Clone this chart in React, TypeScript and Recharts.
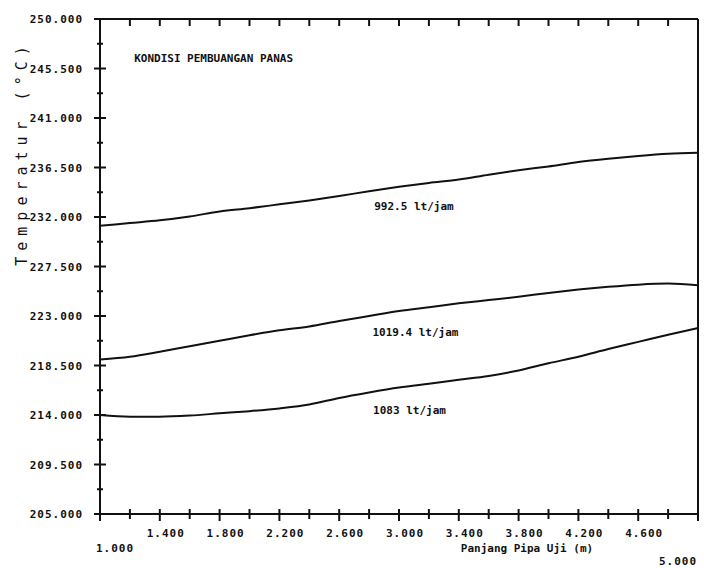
import React from "react";
import { LineChart, Line, XAxis, YAxis, ReferenceDot } from "recharts";

// panjang pipa uji (m)
const panjang = [1.0, 1.2, 1.4, 1.6, 1.8, 2.0, 2.2, 2.4, 2.6, 2.8, 3.0, 3.2, 3.4, 3.6, 3.8, 4.0, 4.2, 4.4, 4.6, 4.8, 5.0];
// temperatur (°C) tiap debit
const suhu992 = [231.2, 231.45, 231.7, 232.05, 232.5, 232.8, 233.15, 233.5, 233.9, 234.35, 234.75, 235.1, 235.4, 235.85, 236.25, 236.6, 237.0, 237.3, 237.55, 237.75, 237.85];
const suhu1019 = [219.05, 219.3, 219.75, 220.25, 220.75, 221.25, 221.7, 222.05, 222.55, 223.0, 223.45, 223.8, 224.15, 224.45, 224.75, 225.1, 225.4, 225.65, 225.85, 225.95, 225.8];
const suhu1083 = [214.0, 213.85, 213.85, 213.95, 214.15, 214.35, 214.6, 214.95, 215.55, 216.05, 216.5, 216.85, 217.2, 217.55, 218.05, 218.7, 219.3, 220.0, 220.65, 221.3, 221.9];

const xTicks = [1.0, 1.2, 1.4, 1.6, 1.8, 2.0, 2.2, 2.4, 2.6, 2.8, 3.0, 3.2, 3.4, 3.6, 3.8, 4.0, 4.2, 4.4, 4.6, 4.8, 5.0];
const yTicks = [205, 207.25, 209.5, 211.75, 214, 216.25, 218.5, 220.75, 223, 225.25, 227.5, 229.75, 232, 234.25, 236.5, 238.75, 241, 243.25, 245.5, 247.75, 250];

const labelDebit = ["992.5 lt/jam", "1019.4 lt/jam", "1083 lt/jam"];
const judul = "KONDISI PEMBUANGAN PANAS";

const data = panjang.map((x, i) => ({ x, a: suhu992[i], b: suhu1019[i], c: suhu1083[i] }));

const mono = "'DejaVu Sans Mono', 'Liberation Mono', monospace";
const ink = "#111";

const LeftTick = (props: any) => {
  const { x, y, payload } = props;
  const k = Math.round((payload.value - 205) / 2.25);
  const major = k % 2 === 0;
  const s = major ? 6 : 3;
  return (
    <g>
      <line x1={x - s} x2={x + s} y1={y} y2={y} stroke={ink} strokeWidth={2} />
      {major && (
        <text x={x - 17} y={y} dy={4} textAnchor="end" fontFamily={mono} fontSize={11} fontWeight="bold" letterSpacing={1} fill={ink}>
          {Number(payload.value).toFixed(3)}
        </text>
      )}
    </g>
  );
};

const BottomTick = (props: any) => {
  const { x, y, payload } = props;
  const k = Math.round((payload.value - 1) / 0.2);
  const major = k % 2 === 0;
  let lx = x + 6;
  let ly = y + 23;
  if (k === 0) {
    lx = x + 15;
    ly = y + 38;
  }
  if (k === 20) {
    lx = x - 20;
    ly = y + 51;
  }
  return (
    <g>
      <line x1={x} x2={x} y1={y - 5} y2={y + (major ? 7 : 5)} stroke={ink} strokeWidth={2} />
      {major && (
        <text x={lx} y={ly} textAnchor="middle" fontFamily={mono} fontSize={11} fontWeight="bold" letterSpacing={1} fill={ink}>
          {Number(payload.value).toFixed(3)}
        </text>
      )}
    </g>
  );
};

const TopTick = (props: any) => {
  const { x, y } = props;
  return <line x1={x} x2={x} y1={y} y2={y + 7} stroke={ink} strokeWidth={2} />;
};

const RightTick = (props: any) => {
  const { x, y } = props;
  return <line x1={x - 6} x2={x} y1={y} y2={y} stroke={ink} strokeWidth={2} />;
};

const YTitle = () => (
  <text
    x={22}
    y={153}
    transform="rotate(-90 22 153)"
    textAnchor="middle"
    dominantBaseline="central"
    fontFamily={mono}
    fontSize={15}
    letterSpacing={6}
    fill={ink}
  >
    Temperatur (°C)
  </text>
);

const XTitle = () => (
  <text x={527} y={552} textAnchor="middle" fontFamily={mono} fontSize={11} fontWeight="bold" fill={ink}>
    Panjang Pipa Uji (m)
  </text>
);

// posisi teks anotasi dalam koordinat data
const notes = [
  { x: 1.76, y: 246.45, text: judul },
  { x: 3.1, y: 233.0, text: labelDebit[0] },
  { x: 3.11, y: 221.55, text: labelDebit[1] },
  { x: 3.07, y: 214.45, text: labelDebit[2] },
];

export default function App() {
  return (
    <div style={{ width: 704, height: 568, background: "#fff" }}>
      <style>{`body{margin:0}`}</style>
      <LineChart width={704} height={568} data={data} margin={{ top: 0, right: 0, bottom: 0, left: 0 }}>
        <XAxis
          xAxisId="bottom"
          dataKey="x"
          type="number"
          domain={[1, 5]}
          ticks={xTicks}
          interval={0}
          height={54}
          tickSize={0}
          tickMargin={0}
          tickLine={false}
          axisLine={{ stroke: ink, strokeWidth: 2 }}
          tick={<BottomTick />}
          label={<XTitle />}
        />
        <XAxis
          xAxisId="top"
          orientation="top"
          dataKey="x"
          type="number"
          domain={[1, 5]}
          ticks={xTicks}
          interval={0}
          height={19}
          tickSize={0}
          tickMargin={0}
          tickLine={false}
          axisLine={{ stroke: ink, strokeWidth: 2 }}
          tick={<TopTick />}
        />
        <YAxis
          yAxisId="left"
          type="number"
          domain={[205, 250]}
          ticks={yTicks}
          interval={0}
          width={100}
          tickSize={0}
          tickMargin={0}
          tickLine={false}
          axisLine={{ stroke: ink, strokeWidth: 2 }}
          tick={<LeftTick />}
          label={<YTitle />}
        />
        <YAxis
          yAxisId="right"
          orientation="right"
          type="number"
          domain={[205, 250]}
          ticks={yTicks}
          interval={0}
          width={6}
          tickSize={0}
          tickMargin={0}
          tickLine={false}
          axisLine={{ stroke: ink, strokeWidth: 2 }}
          tick={<RightTick />}
        />
        <Line xAxisId="bottom" yAxisId="left" type="monotone" dataKey="a" stroke={ink} strokeWidth={2} dot={false} isAnimationActive={false} />
        <Line xAxisId="bottom" yAxisId="left" type="monotone" dataKey="b" stroke={ink} strokeWidth={2} dot={false} isAnimationActive={false} />
        <Line xAxisId="bottom" yAxisId="left" type="monotone" dataKey="c" stroke={ink} strokeWidth={2} dot={false} isAnimationActive={false} />
        {notes.map((n) => (
          <ReferenceDot
            key={n.text}
            xAxisId="bottom"
            yAxisId="left"
            x={n.x}
            y={n.y}
            r={0}
            fill="none"
            stroke="none"
            label={{ value: n.text, position: "center", fontFamily: mono, fontSize: 11, fontWeight: "bold", fill: ink }}
          />
        ))}
      </LineChart>
    </div>
  );
}
